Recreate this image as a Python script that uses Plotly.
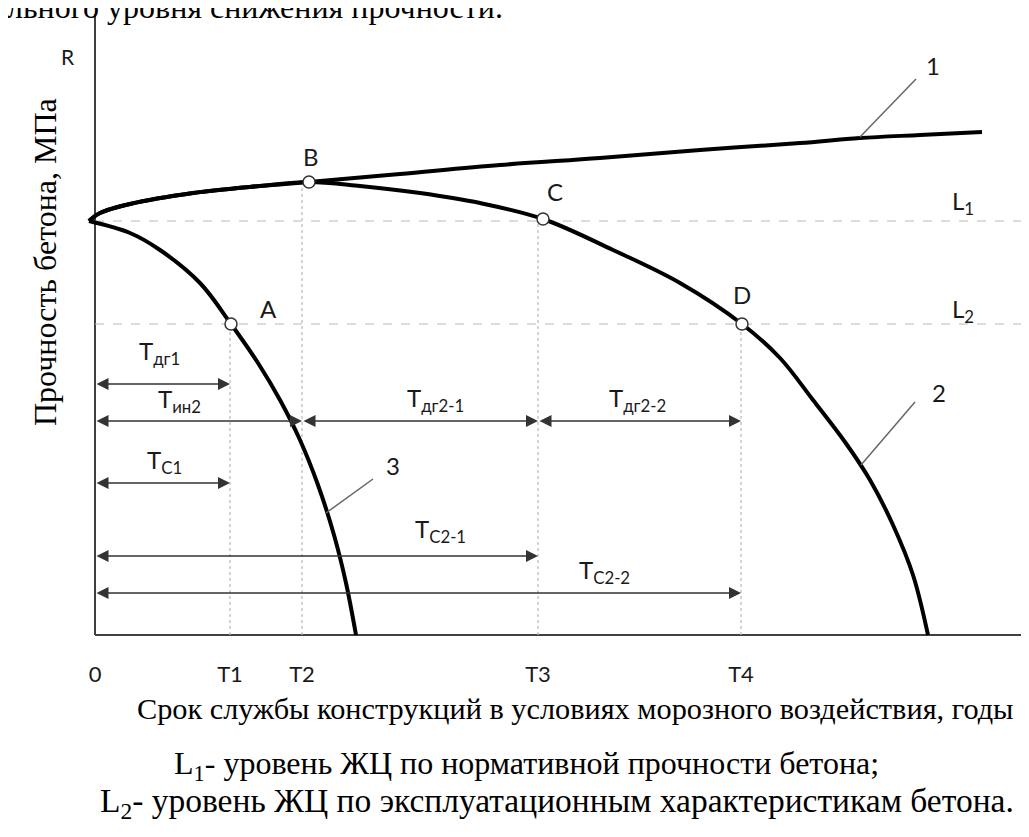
import plotly.graph_objects as go

# ---------------- data (schematic units: service time t, strength R) ----------------
tick_labels = ["0", "T1", "T2", "T3", "T4"]
tick_values = [0.0, 1.35, 2.07, 4.43, 6.46]

L1_level = 4.14
L2_level = 3.11
R_axis_top = 6.21
t_axis_end = 9.40

# curve 1 (strength growth)
curve1_t = [-0.06, 0.05, 0.35, 0.98, 1.65, 2.14, 3.05, 4.05, 5.05, 6.05, 7.05, 7.65, 8.25, 8.87]
curve1_R = [4.14, 4.22, 4.31, 4.42, 4.49, 4.53, 4.61, 4.70, 4.77, 4.85, 4.92, 4.97, 5.00, 5.03]

# curve 2 (growth then degradation)
curve2_t = [-0.06, 0.05, 0.35, 0.98, 1.65, 2.14, 2.65, 3.25, 3.85, 4.48, 5.18, 5.85, 6.47,
            6.85, 7.18, 7.50, 7.75, 7.98, 8.18, 8.33]
curve2_R = [4.14, 4.22, 4.31, 4.42, 4.49, 4.53, 4.49, 4.42, 4.32, 4.16, 3.85, 3.52, 3.11,
            2.77, 2.35, 1.93, 1.55, 1.10, 0.60, 0.00]

# curve 3 (fast degradation)
curve3_t = [-0.06, 0.35, 0.65, 1.05, 1.36, 1.63, 1.85, 2.05, 2.23, 2.39, 2.51, 2.61]
curve3_R = [4.14, 4.02, 3.85, 3.52, 3.11, 2.72, 2.35, 1.95, 1.50, 1.00, 0.52, 0.00]

# characteristic points
point_names = ["A", "B", "C", "D"]
point_t = [1.36, 2.14, 4.48, 6.47]
point_R = [3.11, 4.53, 4.16, 3.11]

# vertical guide lines: (t, top R)
guide_t = [1.35, 2.07, 4.43, 6.46]
guide_top = [3.11, 4.50, 4.14, 3.11]

# time spans (dimension arrows)
span_labels = ["T<sub>дг1</sub>", "T<sub>ин2</sub>", "T<sub>дг2-1</sub>", "T<sub>дг2-2</sub>",
               "T<sub>С1</sub>", "T<sub>С2-1</sub>", "T<sub>С2-2</sub>"]
span_start = [0.0, 0.0, 2.07, 4.43, 0.0, 0.0, 0.0]
span_end = [1.35, 2.07, 4.43, 6.46, 1.35, 4.43, 6.46]
span_level = [2.51, 2.14, 2.14, 2.14, 1.52, 0.79, 0.42]

# ---------------- layout helpers (positions/styles) ----------------
span_label_pos = [(0.64, 2.83), (0.84, 2.35), (3.40, 2.36), (5.42, 2.36),
                  (0.69, 1.74), (3.45, 1.05), (5.09, 0.64)]
point_label_pos = [(1.73, 3.27), (2.16, 4.79), (4.60, 4.44), (6.47, 3.41)]
curve_label_text = ["1", "2", "3"]
curve_label_pos = [(8.38, 5.70), (8.44, 2.43), (2.98, 1.70)]
leader_lines = [((7.65, 4.98), (8.21, 5.56)), ((7.66, 1.70), (8.20, 2.33)), ((2.31, 1.22), (2.78, 1.56))]

# page body has an 8px margin: shift the visible window accordingly
X_RANGE = [-0.87, 9.42]
Y_RANGE = [-2.10, 6.27]

SANS = "Lato, 'Noto Sans', sans-serif"
SERIF = "'Liberation Serif', 'Times New Roman', serif"
INK = "#1a1a1a"

fig = go.Figure()

for tt, rr in [(curve1_t, curve1_R), (curve2_t, curve2_R), (curve3_t, curve3_R)]:
    fig.add_trace(go.Scatter(x=tt, y=rr, mode="lines",
                             line=dict(color="black", width=4, shape="spline", smoothing=1.0),
                             hoverinfo="skip", showlegend=False))

fig.add_trace(go.Scatter(x=point_t, y=point_R, mode="markers",
                         marker=dict(size=12, color="white", line=dict(color="#333333", width=1.5)),
                         hoverinfo="skip", showlegend=False))

shapes = []
# axes lines
shapes.append(dict(type="line", x0=0, x1=0, y0=0, y1=R_axis_top, xref="x", yref="y",
                   line=dict(color="#404040", width=2), layer="below"))
shapes.append(dict(type="line", x0=0, x1=t_axis_end, y0=0, y1=0, xref="x", yref="y",
                   line=dict(color="#404040", width=2), layer="below"))
# levels
for lv in [L1_level, L2_level]:
    shapes.append(dict(type="line", x0=0, x1=t_axis_end, y0=lv, y1=lv, xref="x", yref="y",
                       line=dict(color="#b8b8b8", width=1, dash="dash"), layer="below"))
# guides
for gt, gtop in zip(guide_t, guide_top):
    shapes.append(dict(type="line", x0=gt, x1=gt, y0=0, y1=gtop, xref="x", yref="y",
                       line=dict(color="#b8b8b8", width=1.2, dash="dot"), layer="below"))
# leader lines
for (p0, p1) in leader_lines:
    shapes.append(dict(type="line", x0=p0[0], y0=p0[1], x1=p1[0], y1=p1[1], xref="x", yref="y",
                       line=dict(color="#666666", width=1.5)))

annotations = []
# dimension arrows
for s, e, lv in zip(span_start, span_end, span_level):
    annotations.append(dict(x=e, y=lv, ax=s, ay=lv, xref="x", yref="y", axref="x", ayref="y",
                            text="", showarrow=True, arrowside="end+start",
                            arrowhead=2, startarrowhead=2, arrowsize=1.6, startarrowsize=1.6,
                            arrowwidth=1.5, arrowcolor="#333333", standoff=0, startstandoff=0))
for lab, (lx, ly) in zip(span_labels, span_label_pos):
    annotations.append(dict(x=lx, y=ly, xref="x", yref="y", text=lab, showarrow=False,
                            font=dict(family=SANS, size=24, color=INK)))
for lab, (lx, ly) in zip(point_names, point_label_pos):
    annotations.append(dict(x=lx, y=ly, xref="x", yref="y", text=lab, showarrow=False,
                            font=dict(family=SANS, size=24, color=INK)))
for lab, (lx, ly) in zip(curve_label_text, curve_label_pos):
    annotations.append(dict(x=lx, y=ly, xref="x", yref="y", text=lab, showarrow=False,
                            font=dict(family=SANS, size=24, color=INK)))
# level labels
annotations.append(dict(x=8.68, y=4.33, xref="x", yref="y", text="L<sub>1</sub>", showarrow=False,
                        font=dict(family=SANS, size=24, color=INK)))
annotations.append(dict(x=8.68, y=3.25, xref="x", yref="y", text="L<sub>2</sub>", showarrow=False,
                        font=dict(family=SANS, size=24, color=INK)))
# R
annotations.append(dict(x=-0.27, y=5.79, xref="x", yref="y", text="R", showarrow=False,
                        font=dict(family=SANS, size=21, color=INK)))
# y title
annotations.append(dict(x=-0.50, y=3.73, xref="x", yref="y", text="Прочность бетона, МПа",
                        textangle=-90, showarrow=False,
                        font=dict(family=SERIF, size=32, color="black")))
# x title
annotations.append(dict(x=4.80, y=-0.74, xref="x", yref="y",
                        text="Срок службы конструкций в условиях морозного воздействия, годы",
                        showarrow=False, font=dict(family=SERIF, size=30.3, color="black")))
# captions
annotations.append(dict(x=0.77, y=-1.30, xref="x", yref="y", xanchor="left",
                        text="L<sub>1</sub>- уровень ЖЦ по нормативной прочности бетона;",
                        showarrow=False, font=dict(family=SERIF, size=32, color="black")))
annotations.append(dict(x=0.03, y=-1.68, xref="x", yref="y", xanchor="left",
                        text="L<sub>2</sub>- уровень ЖЦ по эксплуатационным характеристикам бетона.",
                        showarrow=False, font=dict(family=SERIF, size=33.5, color="black")))
# cut-off text at the very top
annotations.append(dict(x=0, y=1, xref="paper", yref="paper", xanchor="left", yanchor="middle",
                        xshift=-3, yshift=1,
                        text="льного уровня снижения прочности.",
                        showarrow=False, font=dict(family=SERIF, size=32, color="black")))

fig.update_layout(
    template="none",
    width=1029, height=837,
    margin=dict(l=0, r=0, t=0, b=0, pad=0),
    paper_bgcolor="white", plot_bgcolor="white",
    shapes=shapes, annotations=annotations,
    showlegend=False,
    xaxis=dict(range=X_RANGE, anchor="free",
               position=(0 - Y_RANGE[0]) / (Y_RANGE[1] - Y_RANGE[0]), automargin=False,
               showgrid=False, zeroline=False, showline=False,
               tickmode="array", tickvals=tick_values, ticktext=tick_labels,
               ticks="outside", ticklen=20, tickcolor="rgba(0,0,0,0)",
               tickfont=dict(family=SANS, size=22, color=INK)),
    yaxis=dict(range=Y_RANGE, automargin=False, showgrid=False, zeroline=False,
               showline=False, showticklabels=False, ticks=""),
)

fig.write_html("out.html")
